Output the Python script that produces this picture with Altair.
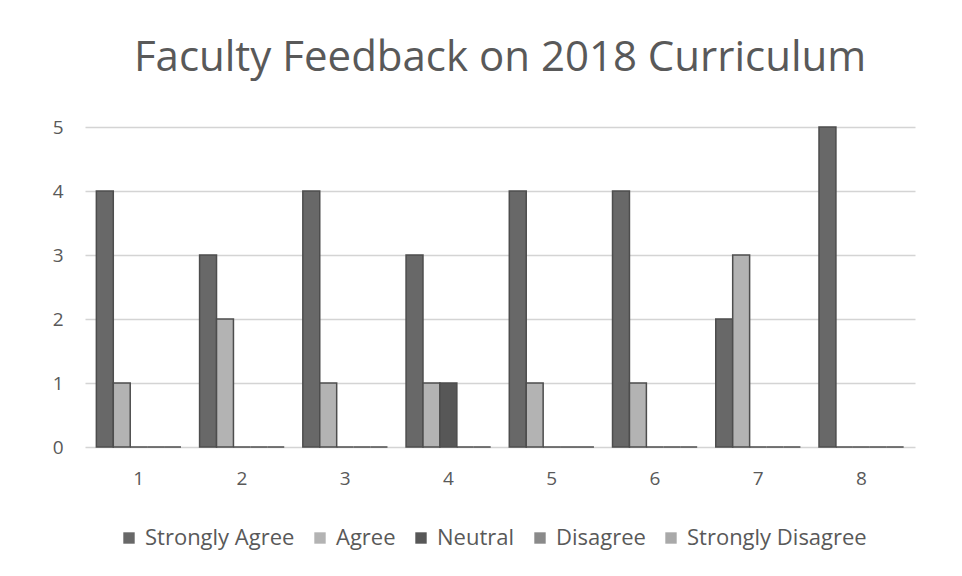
import altair as alt
import pandas as pd

groups = ["1", "2", "3", "4", "5", "6", "7", "8"]
responses = ["Strongly Agree", "Agree", "Neutral", "Disagree", "Strongly Disagree"]
strongly_agree = [4, 3, 4, 3, 4, 4, 2, 5]
agree = [1, 2, 1, 1, 1, 1, 3, 0]
neutral = [0, 0, 0, 1, 0, 0, 0, 0]
disagree = [0, 0, 0, 0, 0, 0, 0, 0]
strongly_disagree = [0, 0, 0, 0, 0, 0, 0, 0]
colors = ["#686868", "#b3b3b3", "#575757", "#8a8a8a", "#a9a9a9"]

series = [strongly_agree, agree, neutral, disagree, strongly_disagree]
rows = []
for r, vals in zip(responses, series):
    for g, v in zip(groups, vals):
        rows.append({"group": g, "response": r, "value": v, "order": responses.index(r)})
df = pd.DataFrame(rows)

chart = alt.Chart(df).mark_bar(stroke="#4d4d4d", strokeWidth=1.5).encode(
    x=alt.X("group:N", sort=groups, title=None,
            scale=alt.Scale(paddingInner=0.18, paddingOuter=0.11),
            axis=alt.Axis(labelAngle=0, labelFontSize=19, labelColor="#595959",
                          labelFont="Open Sans", labelPadding=22, ticks=False,
                          domain=False, grid=False)),
    xOffset=alt.XOffset("response:N", sort=responses),
    y=alt.Y("value:Q", title=None,
            scale=alt.Scale(domain=[0, 5]),
            axis=alt.Axis(values=[0, 1, 2, 3, 4, 5], labelFontSize=19, labelColor="#595959",
                          labelFont="Open Sans", labelPadding=22, ticks=False, domain=False,
                          gridColor="#d4d4d4", gridWidth=1.5)),
    color=alt.Color("response:N", sort=responses,
                    scale=alt.Scale(domain=responses, range=colors),
                    legend=alt.Legend(title=None, orient="none", direction="horizontal",
                                      legendX=33, legendY=400, symbolType="square",
                                      symbolSize=130, symbolStrokeWidth=0,
                                      labelFontSize=22, labelColor="#595959",
                                      labelFont="Open Sans", columnPadding=14,
                                      labelOffset=5, labelLimit=400)),
    order=alt.Order("order:Q"),
).properties(
    width=830, height=320,
    title=alt.Title("Faculty Feedback on 2018 Curriculum", fontSize=42,
                    font="Open Sans", fontWeight="normal", color="#595959",
                    anchor="middle", offset=38),
    padding={"left": 77, "top": 119, "right": 39, "bottom": 121},
    autosize="none",
    background="white",
).configure_view(stroke=None)

chart.save("out.html", embed_options={"renderer": "svg", "actions": False})
